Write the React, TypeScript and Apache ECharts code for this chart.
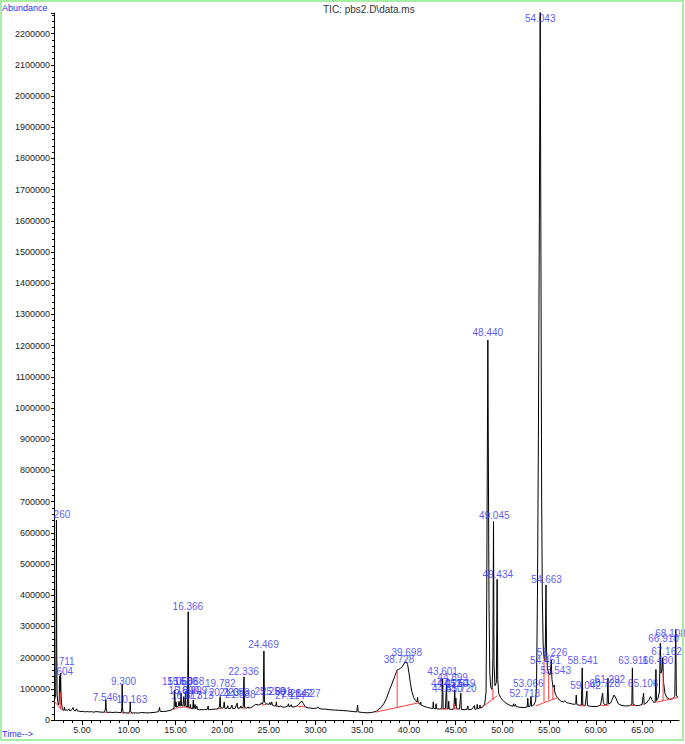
import React, { useEffect, useRef } from "react";
import * as echarts from "echarts";

// ---- axis ranges / ticks ----
const X_MIN = 2.0;
const X_MAX = 68.9;
const Y_MAX = 2266000;
const Y_INTERVAL = 100000;
const X_MAJOR = [5, 10, 15, 20, 25, 30, 35, 40, 45, 50, 55, 60, 65];
const X_MINOR = [3, 4, 6, 7, 8, 9, 11, 12, 13, 14, 16, 17, 18, 19, 21, 22, 23, 24, 26, 27, 28, 29, 31, 32, 33, 34, 36, 37, 38, 39, 41, 42, 43, 44, 46, 47, 48, 49, 51, 52, 53, 54, 56, 57, 58, 59, 61, 62, 63, 64, 66, 67, 68];

// ---- TIC trace: [time (min), abundance (thousands)] ----
const ticTrace: [number, number][] = [
  [2.02, 60], [2.18, 80], [2.23, 300], [2.26, 640], [2.29, 250], [2.33, 80], [2.42, 55], [2.5, 48], [2.56, 60], [2.58, 110], [2.604, 142], [2.63, 100], [2.66, 85], [2.69, 120], [2.711, 150], [2.74, 95], [2.8, 55], [2.88, 38], [2.95, 33],
  [3.05, 30], [3.12, 42], [3.18, 31], [3.3, 33], [3.45, 30], [3.6, 36], [3.65, 31], [3.8, 30], [3.95, 34], [4.05, 40], [4.12, 31], [4.3, 29], [4.42, 36], [4.5, 29], [4.7, 28], [4.9, 27],
  [5.1, 28], [5.3, 26], [5.5, 27], [5.8, 26], [6.0, 27], [6.2, 25], [6.5, 27], [6.8, 26], [7.1, 25], [7.4, 25], [7.5, 35], [7.546, 65], [7.6, 32], [7.7, 24], [8.0, 25], [8.3, 24], [8.6, 25], [8.9, 24],
  [9.2, 24], [9.26, 40], [9.3, 114], [9.34, 38], [9.4, 23], [9.7, 23], [10.0, 22], [10.12, 30], [10.163, 58], [10.2, 28], [10.35, 22], [10.7, 23], [11.0, 22], [11.4, 24], [11.8, 23], [12.2, 23], [12.6, 24], [12.9, 25],
  [13.2, 27], [13.3, 40], [13.36, 28], [13.7, 27], [14.0, 28], [14.3, 30], [14.6, 33], [14.85, 38], [14.92, 96], [14.98, 42], [15.06, 58], [15.12, 42], [15.3, 44], [15.39, 60], [15.45, 45], [15.55, 46], [15.6, 85], [15.65, 46],
  [15.8, 45], [15.89, 75], [15.95, 44], [16.02, 45], [16.07, 90], [16.12, 44], [16.3, 42], [16.366, 347], [16.42, 40], [16.55, 38], [16.6, 50], [16.65, 37], [16.85, 36], [16.91, 64], [16.97, 36], [17.1, 50], [17.15, 35],
  [17.3, 45], [17.35, 34], [17.6, 33], [18.0, 33], [18.4, 34], [18.5, 45], [18.55, 33], [18.9, 34], [19.3, 35], [19.6, 36], [19.72, 45], [19.782, 75], [19.84, 40], [20.0, 38], [20.15, 40], [20.22, 58], [20.28, 38],
  [20.5, 37], [20.6, 46], [20.65, 37], [20.9, 37], [21.05, 48], [21.1, 37], [21.4, 38], [21.6, 54], [21.65, 38], [21.9, 38], [22.0, 45], [22.05, 38], [22.25, 40], [22.336, 138], [22.4, 40], [22.6, 38], [22.8, 42], [22.85, 38],
  [23.1, 40], [23.4, 46], [23.6, 50], [23.9, 48], [24.1, 50], [24.2, 55], [24.3, 50], [24.4, 60], [24.469, 221], [24.53, 58], [24.7, 52], [25.0, 50], [25.1, 56], [25.2, 48], [25.3, 58], [25.4, 47], [25.6, 45], [25.75, 46],
  [25.8, 58], [25.86, 44], [26.1, 43], [26.3, 45], [26.5, 41], [26.8, 42], [27.0, 44], [27.1, 52], [27.15, 43], [27.3, 44], [27.4, 49], [27.45, 42], [27.7, 42], [28.0, 45], [28.2, 50], [28.4, 58], [28.55, 60], [28.7, 52],
  [28.9, 42], [29.2, 39], [29.5, 38], [29.8, 37], [30.1, 38], [30.25, 42], [30.35, 37], [30.7, 35], [31.0, 35], [31.5, 33], [32.0, 32], [32.5, 31], [33.0, 30], [33.5, 29], [34.0, 27], [34.4, 26], [34.5, 48], [34.56, 26],
  [35.0, 24], [35.5, 23], [36.0, 24], [36.5, 28], [37.0, 40], [37.3, 52], [37.6, 70], [37.9, 95], [38.2, 118], [38.5, 142], [38.728, 160], [38.9, 162], [39.1, 166], [39.3, 172], [39.5, 182], [39.698, 187], [39.85, 178],
  [40.0, 150], [40.15, 118], [40.3, 92], [40.5, 72], [40.7, 62], [40.85, 58], [40.92, 72], [40.98, 55], [41.2, 50], [41.25, 58], [41.3, 48], [41.6, 44], [42.0, 40], [42.3, 38], [42.55, 37], [42.6, 58], [42.65, 37],
  [42.85, 36], [42.9, 52], [42.95, 36], [43.3, 35], [43.5, 36], [43.601, 132], [43.66, 36], [43.9, 37], [44.012, 115], [44.07, 36], [44.2, 36], [44.25, 60], [44.3, 35], [44.6, 34], [44.8, 36], [44.899, 96], [44.95, 45],
  [45.02, 70], [45.08, 36], [45.4, 35], [45.549, 86], [45.6, 34], [45.9, 33], [46.2, 34], [46.3, 45], [46.35, 33], [46.7, 34], [47.0, 46], [47.05, 34], [47.25, 36], [47.3, 50], [47.35, 36], [47.55, 38], [47.6, 48],
  [47.65, 38], [47.9, 42], [48.1, 50], [48.25, 90], [48.32, 400], [48.44, 1218], [48.56, 380], [48.65, 150], [48.75, 105], [48.9, 98], [48.98, 200], [49.045, 636], [49.1, 180], [49.2, 110], [49.35, 120], [49.434, 451],
  [49.5, 130], [49.6, 85], [49.8, 72], [50.0, 64], [50.3, 56], [50.6, 50], [50.9, 46], [51.1, 44], [51.2, 52], [51.25, 44], [51.4, 50], [51.45, 43], [51.8, 41], [52.1, 40], [52.4, 40], [52.65, 42], [52.713, 70], [52.77, 42],
  [52.95, 44], [53.066, 75], [53.12, 44], [53.35, 48], [53.55, 60], [53.65, 110], [53.75, 400], [53.85, 900], [53.95, 1600], [54.043, 2290], [54.12, 1500], [54.2, 700], [54.27, 400], [54.36, 240], [54.451, 200],
  [54.55, 190], [54.6, 250], [54.663, 433], [54.72, 220], [54.82, 165], [54.95, 150], [55.1, 145], [55.18, 170], [55.226, 192], [55.3, 130], [55.42, 105], [55.5, 108], [55.543, 112], [55.6, 90], [55.75, 78], [55.9, 72],
  [56.1, 64], [56.3, 60], [56.55, 58], [56.7, 62], [56.85, 56], [57.1, 54], [57.4, 52], [57.7, 50], [57.85, 52], [57.9, 80], [57.96, 50], [58.2, 47], [58.45, 48], [58.541, 167], [58.6, 48], [58.85, 46], [59.042, 93],
  [59.1, 46], [59.4, 44], [59.8, 43], [60.2, 44], [60.5, 48], [60.728, 86], [60.8, 55], [61.0, 48], [61.2, 50], [61.292, 134], [61.36, 52], [61.6, 55], [61.8, 70], [61.95, 80], [62.15, 70], [62.4, 52], [62.8, 46],
  [63.2, 45], [63.6, 46], [63.85, 50], [63.911, 167], [63.98, 50], [64.3, 46], [64.7, 47], [64.95, 50], [65.106, 86], [65.17, 52], [65.4, 54], [65.7, 66], [65.85, 75], [66.0, 65], [66.2, 56], [66.35, 58], [66.43, 162],
  [66.49, 62], [66.65, 70], [66.8, 90], [66.9, 246], [66.98, 150], [67.08, 160], [67.162, 200], [67.25, 120], [67.4, 85], [67.6, 72], [67.9, 66], [68.2, 68], [68.45, 75], [68.55, 290], [68.62, 80], [68.75, 72],
];

// ---- integration baselines / drop lines (red): polylines of [time, abundance (thousands)] ----
const baselineSegments: [number, number][][] = [
  [[2.02, 60], [2.55, 42], [2.85, 30]], [[2.68, 38], [2.68, 90]],
  [[7.45, 24], [7.65, 24]], [[9.2, 23], [9.4, 22]], [[10.05, 22], [10.3, 22]],
  [[14.7, 33], [15.3, 40], [16.0, 42], [16.6, 37]],
  [[19.6, 36], [20.0, 37]], [[22.2, 39], [22.5, 38]], [[24.3, 48], [24.7, 50]], [[25.7, 44], [25.95, 43]], [[28.1, 44], [28.9, 42]],
  [[36.4, 25], [41.0, 55]], [[38.73, 39], [38.73, 160]],
  [[43.45, 35], [44.15, 35]], [[44.75, 35], [45.1, 36]], [[44.9, 35], [44.9, 52]],
  [[47.8, 40], [49.45, 78]], [[48.98, 64], [48.98, 100]],
  [[53.55, 45], [55.9, 72]], [[54.45, 58], [54.45, 200]], [[54.95, 65], [54.95, 150]], [[55.4, 68], [55.4, 105]],
  [[58.3, 46], [58.9, 45]], [[60.5, 46], [61.4, 48]], [[63.7, 46], [64.2, 47]], [[65.0, 49], [65.3, 52]],
  [[66.3, 56], [68.75, 72]], [[67.2, 62], [67.2, 155]],
];

// ---- peak labels: [text, time, abundance (thousands) at label centre] ----
const peakLabels: [string, number, number][] = [
  ["260", 2.85, 659], [".711", 3.2, 189], [".604", 3.0, 157],
  ["7.546", 7.49, 73], ["9.300", 9.44, 124], ["10.163", 10.34, 66],
  ["15.058", 15.2, 122], ["15.608", 15.75, 122], ["16.068", 16.45, 122],
  ["15.890", 15.9, 96], ["16.909", 16.75, 96],
  ["16.617", 16.15, 78], ["17.313", 17.45, 78],
  ["16.366", 16.33, 363],
  ["19.782", 19.8, 118],
  ["20.223", 20.2, 88], ["21.053", 21.3, 88], ["21.588", 21.95, 83],
  ["22.336", 22.28, 155], ["24.469", 24.42, 243],
  ["25.250", 25.1, 91], ["25.801", 25.8, 91], ["27.114", 27.25, 80],
  ["28.142", 28.0, 86], ["28.527", 28.9, 86],
  ["38.728", 38.93, 195], ["39.698", 39.75, 216],
  ["43.601", 43.6, 155], ["44.899", 44.67, 136],
  ["44.012", 44.0, 118], ["44.250", 44.7, 118], ["45.549", 45.45, 118],
  ["44.510", 44.1, 102], ["45.720", 45.6, 102],
  ["48.440", 48.44, 1243], ["49.045", 49.12, 654], ["49.434", 49.5, 467],
  ["52.713", 52.4, 86], ["53.066", 52.76, 118],
  ["54.043", 54.04, 2247], ["54.451", 54.6, 192], ["54.663", 54.72, 451],
  ["55.226", 55.3, 217], ["55.543", 55.7, 160],
  ["58.541", 58.6, 192], ["59.042", 58.9, 110], ["60.728", 60.96, 118], ["61.292", 61.5, 130],
  ["63.911", 64.0, 192], ["65.106", 65.06, 118], ["66.430", 66.66, 192], ["67.162", 67.56, 219],
  ["66.910", 67.25, 262], ["68.108", 68.0, 276],
];

const FONT = "Liberation Sans, Arial, sans-serif";
const LABEL_BLUE = "#2e2ef5";

export default function App() {
  const ref = useRef<HTMLDivElement>(null);

  useEffect(() => {
    if (!ref.current) return;
    const chart = echarts.init(ref.current, null, { renderer: "svg" });

    const traceData = ticTrace.map(([t, v]) => [t, v * 1000]);
    const segData = baselineSegments.map((seg) => ({ coords: seg.map(([t, v]) => [t, v * 1000]) }));
    const labelData = peakLabels.map(([txt, t, v]) => ({ name: txt, value: [t, v * 1000] }));

    const option: any = {
      animation: false,
      backgroundColor: "#ffffff",
      textStyle: { fontFamily: FONT },
      grid: { left: 54, right: 6, top: 13, bottom: 24 },
      xAxis: [
        {
          type: "value",
          min: X_MIN,
          max: X_MAX,
          axisLine: { show: true, onZero: false, lineStyle: { color: "#000", width: 1 } },
          axisTick: { show: true, customValues: X_MAJOR, length: 5, lineStyle: { color: "#000" } },
          axisLabel: {
            customValues: X_MAJOR,
            formatter: (v: number) => v.toFixed(2),
            fontSize: 9,
            color: "#222",
            fontFamily: FONT,
            margin: 5,
          },
          splitLine: { show: false },
        },
        {
          type: "value",
          min: X_MIN,
          max: X_MAX,
          position: "bottom",
          axisLine: { show: false, onZero: false },
          axisTick: { show: true, customValues: X_MINOR, length: 3, lineStyle: { color: "#000" } },
          axisLabel: { show: false },
          splitLine: { show: false },
        },
      ],
      yAxis: {
        type: "value",
        min: 0,
        max: Y_MAX,
        interval: Y_INTERVAL,
        axisLine: { show: true, lineStyle: { color: "#000", width: 1 } },
        axisTick: { show: true, length: 3, lineStyle: { color: "#000" } },
        minorTick: { show: true, splitNumber: 5, length: 2, lineStyle: { color: "#000" } },
        axisLabel: {
          formatter: (v: number) => String(v),
          fontSize: 9,
          color: "#222",
          fontFamily: FONT,
          margin: 4,
          showMaxLabel: false,
        },
        splitLine: { show: false },
      },
      series: [
        {
          type: "line",
          xAxisIndex: 0,
          yAxisIndex: 0,
          data: traceData,
          symbol: "none",
          showSymbol: false,
          lineStyle: { color: "#000", width: 1 },
          z: 3,
          clip: true,
        },
        {
          type: "lines",
          coordinateSystem: "cartesian2d",
          xAxisIndex: 0,
          yAxisIndex: 0,
          polyline: true,
          data: segData,
          lineStyle: { color: "#ff3b3b", width: 1, opacity: 1 },
          z: 4,
        },
        {
          type: "scatter",
          xAxisIndex: 0,
          yAxisIndex: 0,
          data: labelData,
          symbolSize: 1,
          itemStyle: { color: "rgba(0,0,0,0)" },
          label: {
            show: true,
            position: "inside",
            formatter: (p: any) => p.name,
            color: LABEL_BLUE,
            fontSize: 10,
            fontFamily: FONT,
          },
          z: 5,
        },
      ],
      graphic: [
        {
          type: "rect",
          shape: { x: 1, y: 1, width: 682, height: 739 },
          style: { fill: "none", stroke: "#a6eea6", lineWidth: 2 },
          silent: true,
          z: 10,
        },
        {
          type: "text",
          x: 2,
          y: 3,
          style: { text: "Abundance", fill: "#2e2eee", font: `9px ${FONT}` },
          z: 10,
        },
        {
          type: "text",
          x: 323,
          y: 4,
          style: { text: "TIC: pbs2.D\\data.ms", fill: "#333", font: `10px ${FONT}` },
          z: 10,
        },
        {
          type: "text",
          x: 2,
          y: 729,
          style: { text: "Time-->", fill: "#2e2eee", font: `9px ${FONT}` },
          z: 10,
        },
      ],
    };

    chart.setOption(option);
    return () => chart.dispose();
  }, []);

  return (
    <div
      ref={ref}
      style={{ position: "absolute", left: 0, top: 0, width: 685, height: 744, background: "#fff" }}
    />
  );
}
